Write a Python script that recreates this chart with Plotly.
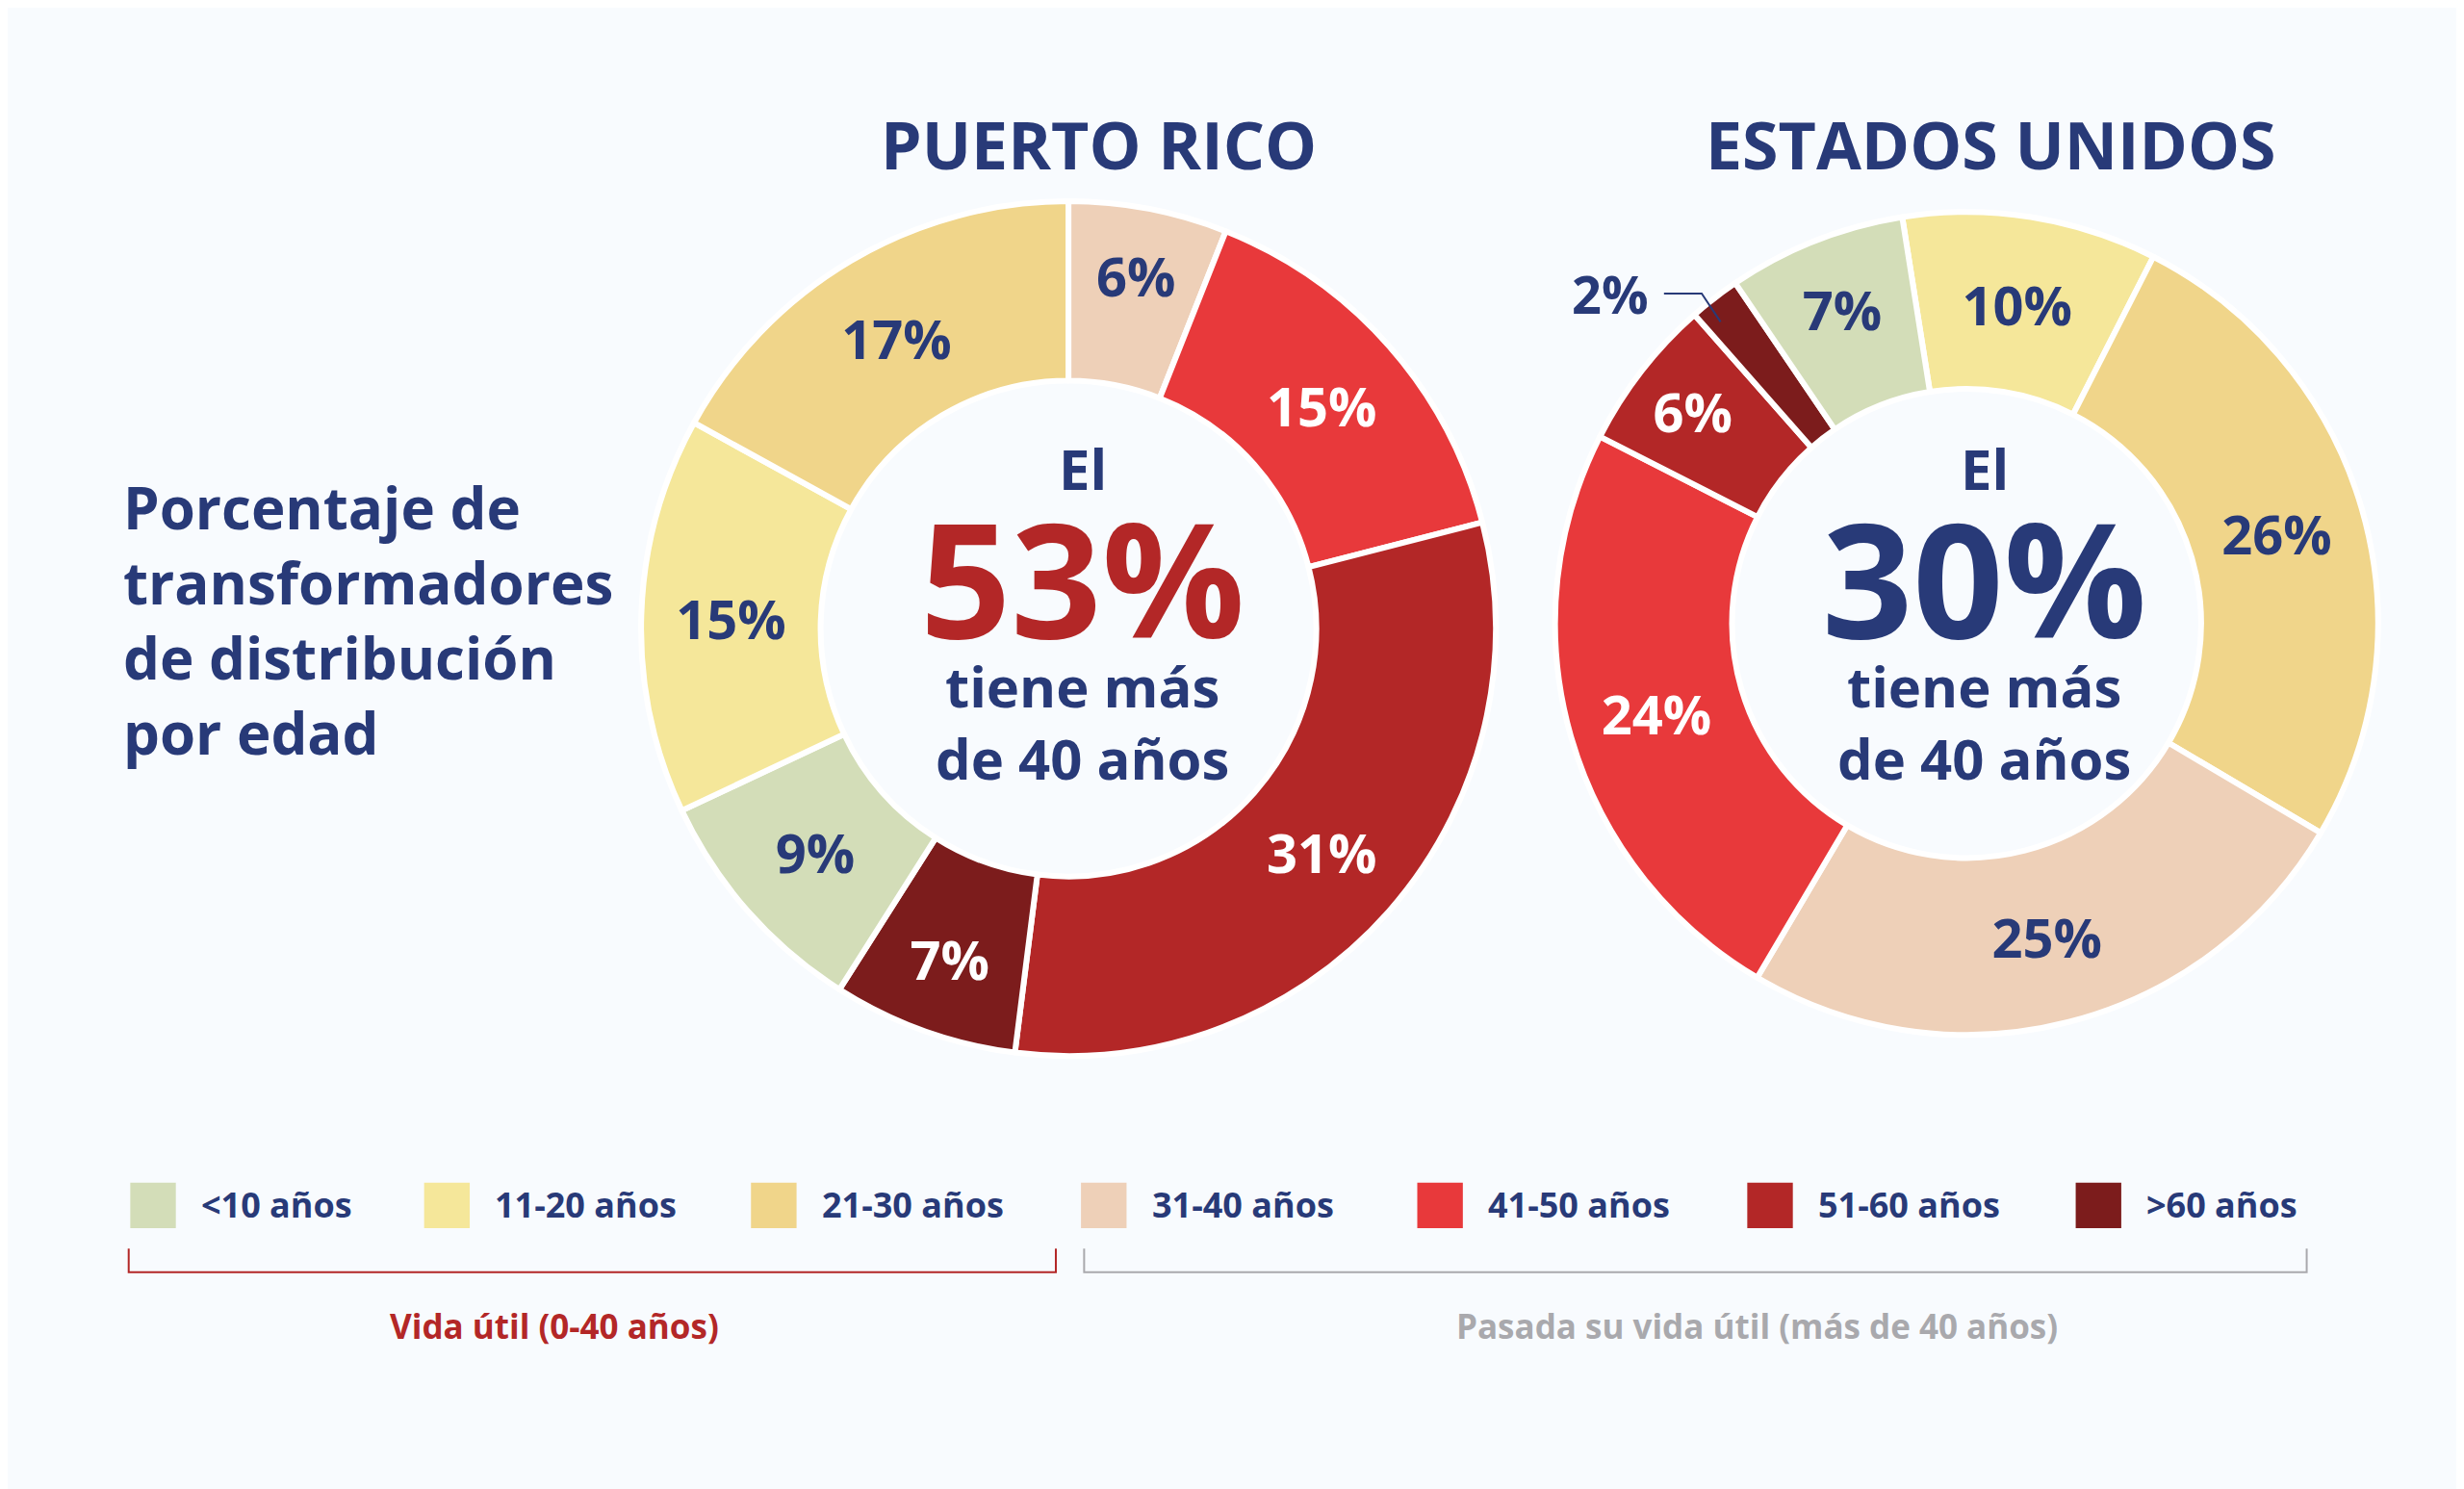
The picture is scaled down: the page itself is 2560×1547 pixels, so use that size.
import plotly.graph_objects as go

W, H = 2560, 1547
SX, SY = 1568.0, 948.0
def px(x): return x / SX
def py(y): return 1 - y / SY

categories = ["<10 años", "11-20 años", "21-30 años", "31-40 años", "41-50 años", "51-60 años", ">60 años"]
colors = ["#d3ddb8", "#f5e79a", "#f0d58a", "#eed0b8", "#e8393b", "#b32727", "#7c1c1c"]
text_colors = ["#283a78", "#283a78", "#283a78", "#283a78", "white", "white", "white"]
pr_values = [9, 15, 17, 6, 15, 31, 7]
us_values = [7, 10, 26, 25, 24, 6, 2]

NAVY = "#283a78"
FONT = "Open Sans"

def ordered(vals, order):
    return [categories[i] for i in order], [vals[i] for i in order], [colors[i] for i in order], [text_colors[i] for i in order]

fig = go.Figure()

o = [3, 4, 5, 6, 0, 1, 2]
lab, val, col, tc = ordered(pr_values, o)
fig.add_trace(go.Pie(labels=lab, values=val, sort=False, direction="clockwise", rotation=0,
                     hole=0.58, marker=dict(colors=col, line=dict(color="white", width=6)),
                     texttemplate="%{value}%", textposition="inside", insidetextorientation="horizontal",
                     textfont=dict(family=FONT, size=56, color=tc, weight="bold"),
                     domain=dict(x=[0.257, 0.604], y=[0.296, 0.870]), showlegend=False, hoverinfo="label+value"))

o = [1, 2, 3, 4, 5, 6, 0]
lab, val, col, tc = ordered(us_values, o)
texts = ["%d%%" % v if v > 2 else "" for v in val]
fig.add_trace(go.Pie(labels=lab, values=val, sort=False, direction="clockwise", rotation=-9,
                     hole=0.57, marker=dict(colors=col, line=dict(color="white", width=6)),
                     text=texts, texttemplate="%{text}", textposition="inside", insidetextorientation="horizontal",
                     textfont=dict(family=FONT, size=56, color=tc, weight="bold"),
                     domain=dict(x=[0.628, 0.962], y=[0.310, 0.863]), showlegend=False, hoverinfo="label+value"))

ann = []
def A(x, y, t, size, color=NAVY, xa="center", **kw):
    ann.append(dict(x=px(x), y=py(y), xref="paper", yref="paper", text=t, showarrow=False,
                    xanchor=xa, yanchor="middle", font=dict(family=FONT, size=size, color=color, weight="bold"), **kw))

A(694, 87, "PUERTO RICO", 68)
A(1262, 87, "ESTADOS UNIDOS", 68)
A(72, 390, "Porcentaje de<br>transformadores<br>de distribución<br>por edad", 60, xa="left", align="left")
A(684, 293, "El", 58)
A(684, 362, "53%", 165, color="#b32727")
A(684, 455, "tiene más<br>de 40 años", 58)
A(1258, 293, "El", 58)
A(1258, 362, "30%", 165)
A(1258, 455, "tiene más<br>de 40 años", 58)
A(1020, 182, "2%", 54)

shapes = []
shapes.append(dict(type="path", xref="paper", yref="paper",
                   path="M %f %f L %f %f L %f %f" % (px(1054), py(182), px(1078), py(182), px(1090), py(200)),
                   line=dict(color=NAVY, width=2)))

lx = [78, 265, 473, 683, 897, 1107, 1316]
for i, c in enumerate(categories):
    shapes.append(dict(type="rect", xref="paper", yref="paper", x0=px(lx[i]), x1=px(lx[i] + 29),
                       y0=py(777), y1=py(748), fillcolor=colors[i], line=dict(width=0)))
    A(lx[i] + 44, 762, c, 36, xa="left")

def bracket(x0, x1, color):
    shapes.append(dict(type="path", xref="paper", yref="paper",
                       path="M %f %f L %f %f L %f %f L %f %f" % (px(x0), py(790), px(x0), py(805), px(x1), py(805), px(x1), py(790)),
                       line=dict(color=color, width=2)))
bracket(77, 667, "#b32727")
bracket(685, 1463, "#a9a9ad")
A(348, 839, "Vida útil (0-40 años)", 35, color="#b32727")
A(1113, 839, "Pasada su vida útil (más de 40 años)", 35, color="#a9a9ad")

fig.update_layout(width=W, height=H, margin=dict(l=0, r=0, t=0, b=0),
                  paper_bgcolor="#f8fbfe", plot_bgcolor="#f8fbfe",
                  annotations=ann, shapes=shapes)
fig.write_html("out.html")
